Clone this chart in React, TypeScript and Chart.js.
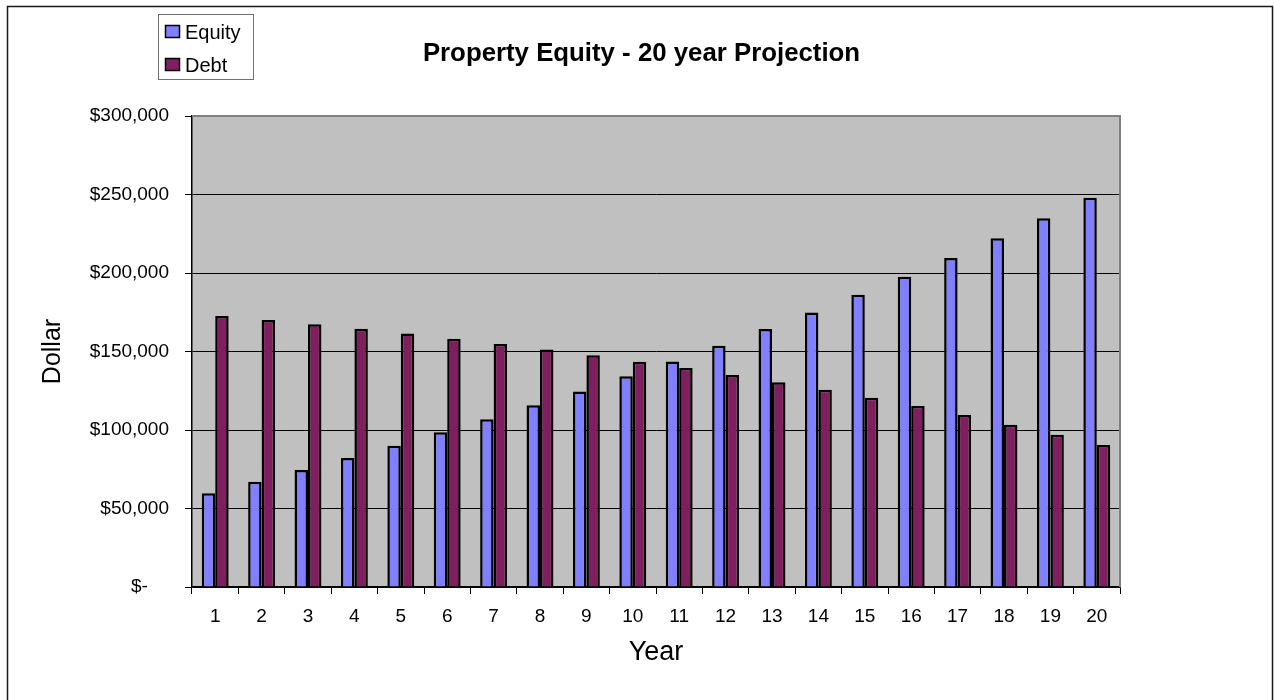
import React, { useEffect, useRef } from "react";
import { Chart, registerables } from "chart.js";

Chart.register(...registerables);

const years = ["1","2","3","4","5","6","7","8","9","10","11","12","13","14","15","16","17","18","19","20"];
const equity = [59700, 67100, 74500, 82200, 90000, 98500, 106800, 115700, 124600, 134200, 143700, 153700, 164300, 174900, 186200, 197600, 209500, 222100, 234800, 248000];
const debt = [172600, 170100, 167300, 164500, 161400, 158200, 154800, 151200, 147600, 143500, 139500, 135000, 130400, 125700, 120600, 115300, 109500, 103400, 97000, 90400];
const yTicks = [0, 50000, 100000, 150000, 200000, 250000, 300000];
const titleText = "Property Equity - 20 year Projection";
const seriesNames = ["Equity", "Debt"];
const seriesColors = ["#8080FF", "#7F1F5F"];

const FONT = "'Liberation Sans', Arial, sans-serif";

function fmt(v: number): string {
  if (v === 0) return "$-    ";
  return "$" + v.toLocaleString("en-US");
}

const decorPlugin = {
  id: "decor",
  beforeDraw(chart: any) {
    const { ctx, chartArea } = chart;
    ctx.save();
    ctx.fillStyle = "#ffffff";
    ctx.fillRect(0, 0, chart.width, chart.height);
    ctx.fillStyle = "#C0C0C0";
    ctx.fillRect(chartArea.left, chartArea.top, chartArea.right - chartArea.left, chartArea.bottom - chartArea.top);
    ctx.restore();
  },
  afterDatasetsDraw(chart: any) {
    const { ctx, chartArea } = chart;
    ctx.save();
    ctx.strokeStyle = "#808080";
    ctx.lineWidth = 2;
    ctx.beginPath();
    ctx.moveTo(chartArea.left, chartArea.top);
    ctx.lineTo(chartArea.right, chartArea.top);
    ctx.lineTo(chartArea.right, chartArea.bottom);
    ctx.stroke();
    ctx.restore();
  },
  afterDraw(chart: any) {
    const { ctx } = chart;
    ctx.save();
    ctx.strokeStyle = "#1a1a1a";
    ctx.lineWidth = 1.5;
    ctx.strokeRect(7.5, 6.5, 1265, 710);
    ctx.fillStyle = "#000";
    ctx.font = "bold 25.8px " + FONT;
    ctx.textAlign = "center";
    ctx.textBaseline = "alphabetic";
    ctx.fillText(titleText, 641.5, 60.5);
    ctx.strokeStyle = "#707070";
    ctx.lineWidth = 1;
    ctx.strokeRect(158.5, 14.5, 95, 65);
    const rows = [
      { y: 25, base: 39 },
      { y: 58, base: 71.5 },
    ];
    ctx.font = "20px " + FONT;
    ctx.textAlign = "left";
    rows.forEach((r, i) => {
      ctx.fillStyle = seriesColors[i];
      ctx.fillRect(165.5, r.y + 0.5, 14, 12);
      ctx.strokeStyle = "#000";
      ctx.lineWidth = 1.5;
      ctx.strokeRect(165.5, r.y + 0.5, 14, 12);
      ctx.fillStyle = "#000";
      ctx.fillText(seriesNames[i], 185, r.base);
    });
    ctx.restore();
  },
};

export default function App() {
  const ref = useRef<HTMLCanvasElement | null>(null);
  useEffect(() => {
    document.body.style.margin = "0";
    const canvas = ref.current!;
    const chart = new Chart(canvas, {
      type: "bar",
      data: {
        labels: years,
        datasets: [
          {
            label: seriesNames[0],
            data: equity,
            backgroundColor: seriesColors[0],
            borderColor: "#000",
            borderWidth: 2.5,
            categoryPercentage: 0.58,
            barPercentage: 1.0,
          },
          {
            label: seriesNames[1],
            data: debt,
            backgroundColor: seriesColors[1],
            borderColor: "#000",
            borderWidth: 2.5,
            categoryPercentage: 0.58,
            barPercentage: 1.0,
          },
        ],
      },
      options: {
        responsive: false,
        animation: false,
        devicePixelRatio: 1,
        layout: { padding: { left: 0, top: 116, right: 154, bottom: 0 } },
        plugins: {
          legend: { display: false },
          title: { display: false },
          tooltip: { enabled: false },
        },
        scales: {
          x: {
            offset: true,
            grid: {
              offset: true,
              drawOnChartArea: false,
              drawTicks: true,
              tickLength: 7,
              color: "#000",
            },
            border: { color: "#000", width: 1.5 },
            ticks: {
              color: "#000",
              font: { family: FONT, size: 19 },
              padding: 11,
              maxRotation: 0,
              autoSkip: false,
            },
            title: {
              display: true,
              text: "Year",
              color: "#000",
              font: { family: FONT, size: 27 },
              padding: { top: 0, bottom: 31 },
            },
            afterFit(scale: any) {
              scale.height = 113;
            },
          },
          y: {
            min: 0,
            max: 300000,
            afterBuildTicks(scale: any) {
              scale.ticks = yTicks.map((v) => ({ value: v }));
            },
            grid: {
              color: "#000",
              lineWidth: 1,
              drawTicks: true,
              tickLength: 7,
            },
            border: { color: "#000", width: 1.5 },
            ticks: {
              color: "#000",
              font: { family: FONT, size: 19 },
              padding: 16,
              callback: (v: any) => fmt(Number(v)),
            },
            title: {
              display: true,
              text: "Dollar",
              color: "#000",
              font: { family: FONT, size: 25 },
              padding: { top: 38, bottom: 0 },
            },
            afterFit(scale: any) {
              scale.width = 192;
            },
          },
        },
      },
      plugins: [decorPlugin],
    });
    return () => chart.destroy();
  }, []);
  return <canvas ref={ref} width={1274} height={700} style={{ display: "block" }} />;
}
